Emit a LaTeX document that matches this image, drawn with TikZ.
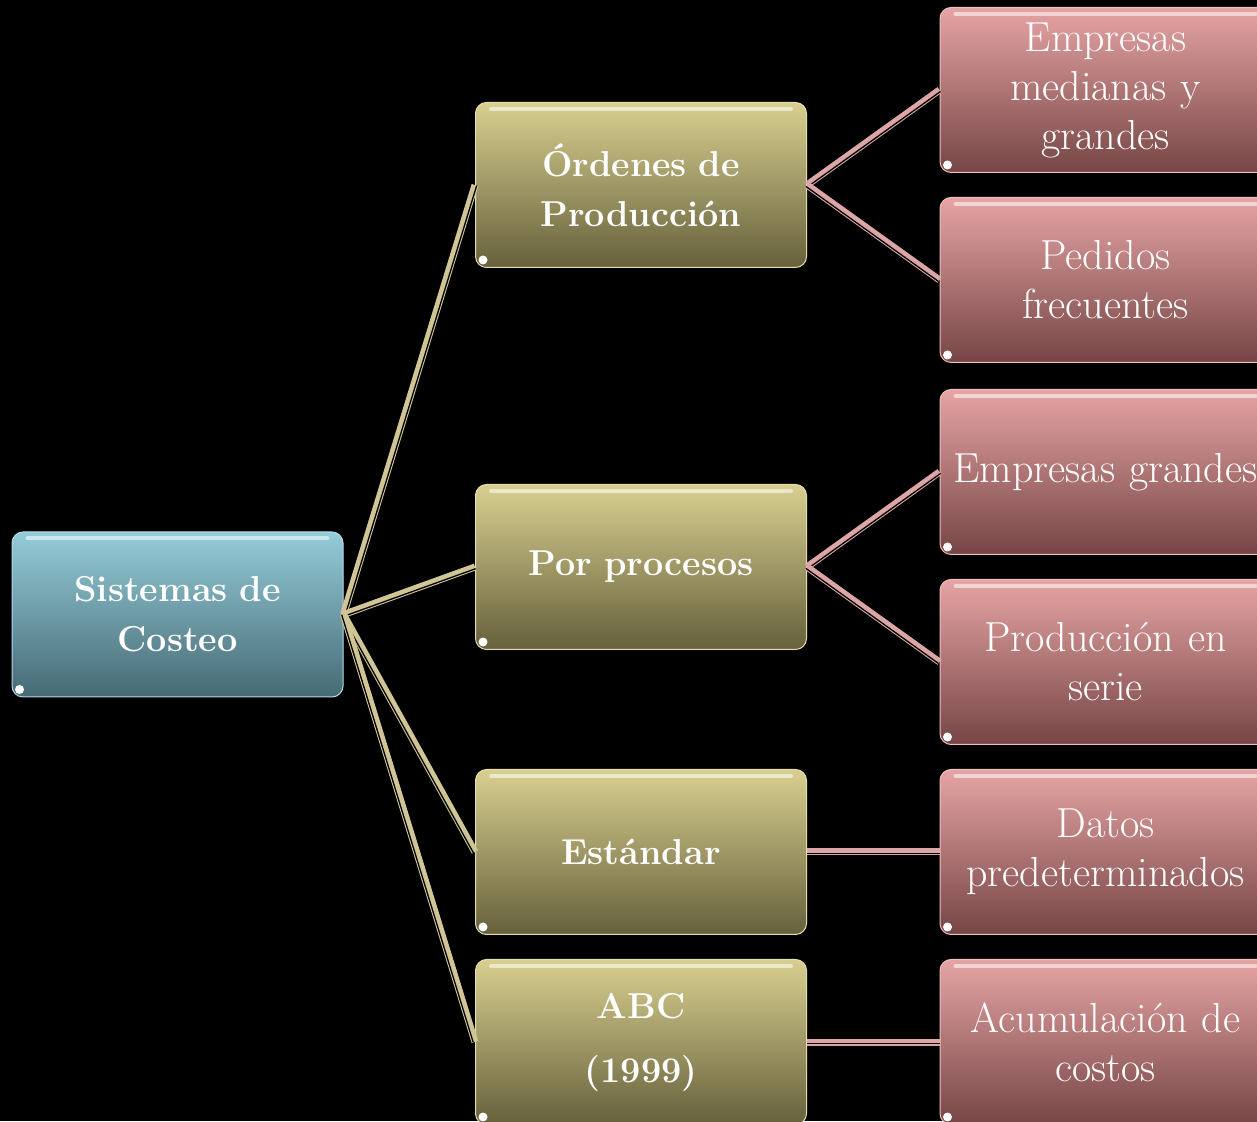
\documentclass[tikz,border=0pt]{standalone}
\usetikzlibrary{calc}
\definecolor{rootT}{HTML}{94CCD9}
\definecolor{rootB}{HTML}{466A74}
\definecolor{goldT}{HTML}{D8CF8F}
\definecolor{goldB}{HTML}{66603C}
\definecolor{pinkT}{HTML}{E6A4A4}
\definecolor{pinkB}{HTML}{764545}
\definecolor{goldLine}{HTML}{CFC595}
\definecolor{pinkLine}{HTML}{DDA6A6}
\tikzset{
  box/.style={rounded corners=11pt, minimum width=331pt, minimum height=165pt,
    text width=330pt, align=center, inner sep=0pt, text=white,
    draw=#1T!70!white, line width=1pt, top color=#1T, bottom color=#1B},
  strong/.style={font=\fontsize{36}{50}\selectfont\bfseries},
  plain/.style={font=\fontsize{42}{49}\selectfont},
}
% light rail with a thin dark groove along one side
\newcommand\rail[3]{%
  \draw[line width=7pt,#3] (#1) -- (#2);
  \draw[line width=1.3pt,black] ($(#1)!1.8pt!-90:(#2)$) -- ($(#2)!1.8pt!90:(#1)$);
}
\begin{document}
\begin{tikzpicture}[x=1pt,y=1pt]
\useasboundingbox (0,0) rectangle (1257,1121);
\fill[black] (0,0) rectangle (1257,1121);
\clip (0,0) rectangle (1257,1121);

% root
\node[box=root, strong] (root) at (177.5,506.5) {Sistemas de\\Costeo};
% first level
\node[box=gold, strong] (ord) at (641,936) {Órdenes de\\Producción};
\node[box=gold, strong] (proc) at (641,554) {Por procesos};
\node[box=gold, strong] (std) at (641,269) {Estándar};
\node[box=gold, strong] (abc) at (641,79) {ABC\\[14pt](1999)};
% second level
\node[box=pink, plain] (emed) at (1105.5,1031) {Empresas\\medianas y\\grandes};
\node[box=pink, plain] (ped) at (1105.5,841) {Pedidos\\frecuentes};
\node[box=pink, plain] (egr) at (1105.5,649) {Empresas grandes};
\node[box=pink, plain] (ser) at (1105.5,459) {Producción en\\serie};
\node[box=pink, plain] (dat) at (1105.5,269) {Datos\\predeterminados};
\node[box=pink, plain] (acu) at (1105.5,79) {Acumulación de\\costos};

% glossy highlight and corner spot on every box
\foreach \n in {root,ord,proc,std,abc,emed,ped,egr,ser,dat,acu}{
  \draw[white, opacity=0.55, line width=4pt, line cap=round]
    ([xshift=16pt,yshift=-7pt]\n.north west) -- ([xshift=-16pt,yshift=-7pt]\n.north east);
  \fill[white] ([xshift=8pt,yshift=8pt]\n.south west) circle (4.5pt);
}

\rail{root.east}{ord.west}{goldLine}
\rail{root.east}{proc.west}{goldLine}
\rail{root.east}{std.west}{goldLine}
\rail{root.east}{abc.west}{goldLine}
\rail{ord.east}{emed.west}{pinkLine}
\rail{ord.east}{ped.west}{pinkLine}
\rail{proc.east}{egr.west}{pinkLine}
\rail{proc.east}{ser.west}{pinkLine}
\rail{std.east}{dat.west}{pinkLine}
\rail{abc.east}{acu.west}{pinkLine}
\end{tikzpicture}
\end{document}
